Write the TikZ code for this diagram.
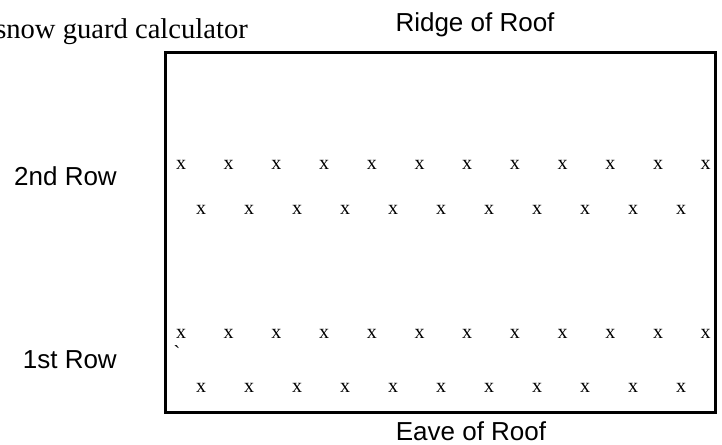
\documentclass[tikz,border=0pt]{standalone}
\usepackage{fontspec}
\setmainfont{Liberation Serif}
\newfontfamily\arialfont{Liberation Sans}
\begin{document}
\begin{tikzpicture}[x=1pt,y=-1pt,
  label/.style={inner sep=0pt,anchor=base,font=\arialfont\fontsize{26}{30}\selectfont},
  guard/.style={inner sep=0pt,anchor=base,font=\fontsize{20}{24}\selectfont},
  roof/.style={draw=black,line width=3pt}]
\useasboundingbox (0,0) rectangle (722,444);
\node[inner sep=0pt,anchor=base east,font=\fontsize{28.6}{32}\selectfont] (title) at (248,39) {snow guard calculator};
\node[label] (ridge) at (475,32) {Ridge of Roof};
\node[label] (eave) at (471,440) {Eave of Roof};
\node[label,anchor=base east] (row2) at (117,185) {2nd Row};
\node[label,anchor=base east] (row1) at (117,368) {1st Row};
\draw[roof] (165.5,52.5) rectangle (715,412.5);
\foreach \i in {0,...,11} {
  \node[guard] (a\i) at ({181+47.7*\i},169.5) {x};
  \node[guard] (c\i) at ({181+47.7*\i},338.5) {x};
}
\foreach \i in {0,...,10} {
  \node[guard] (b\i) at ({201+48*\i},214.5) {x};
  \node[guard] (d\i) at ({201+48*\i},392.5) {x};
}
\node[guard] (tick) at (177,359) {ˋ};
\end{tikzpicture}
\end{document}
